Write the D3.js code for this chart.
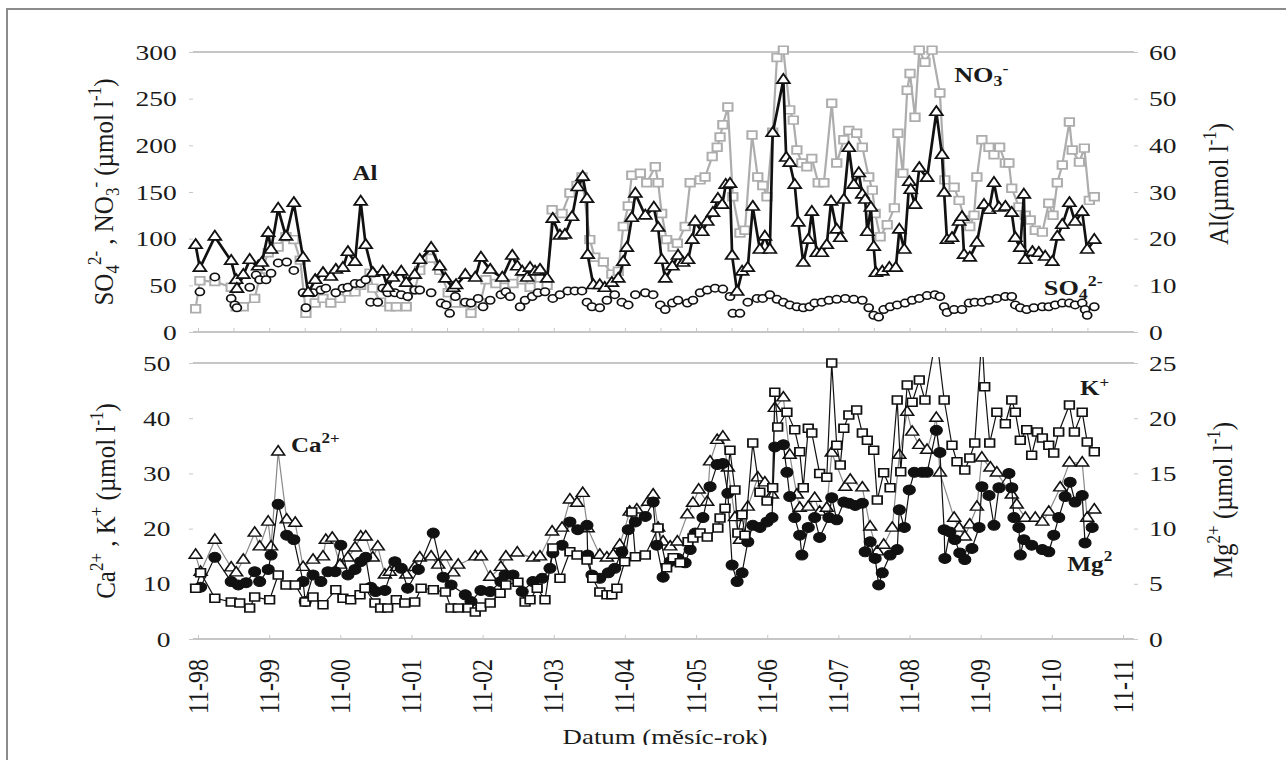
<!DOCTYPE html>
<html>
<head>
<meta charset="utf-8">
<title>Chemie - casove rady</title>
<script src="https://d3js.org/d3.v7.min.js"></script>
<style>
	body { margin: 0; background: #fff; }
	text { font-family: "Liberation Serif", "Times New Roman", serif; fill: #1a1a1a; }
</style>
</head>
<body>
<div id="chart"></div>
<script>

// ---- data (decimal year, value) ----
var tickLabels = ["11-98","11-99","11-00","11-01","11-02","11-03","11-04","11-05","11-06","11-07","11-08","11-09","11-10","11-11"];
var topLeftTicks = [0, 50, 100, 150, 200, 250, 300];
var topRightTicks = [0, 10, 20, 30, 40, 50, 60];
var botLeftTicks = [0, 10, 20, 30, 40, 50];
var botRightTicks = [0, 5, 10, 15, 20, 25];

// Al (right axis, umol/l)
var alData = [[1998.80,18.6],[1998.86,13.7],[1999.07,20.4],[1999.30,15.2],[1999.37,11.1],[1999.38,9.2],[1999.47,12.2],[1999.56,15.4],[1999.68,14.0],[1999.73,14.8],[1999.82,21.2],[1999.86,17.6],[1999.96,26.4],[2000.07,20.4],[2000.18,27.6],[2000.31,15.9],[2000.38,8.4],[2000.48,11.1],[2000.59,12.6],[2000.70,11.8],[2000.77,13.3],[2000.87,13.7],[2000.94,17.1],[2001.04,15.0],[2001.12,27.9],[2001.19,18.6],[2001.29,12.6],[2001.43,12.9],[2001.50,9.4],[2001.57,11.6],[2001.69,12.9],[2001.76,10.5],[2001.88,12.2],[2001.95,15.4],[2002.11,18.0],[2002.23,14.0],[2002.31,11.4],[2002.42,9.4],[2002.46,10.0],[2002.59,12.2],[2002.73,11.6],[2002.81,15.9],[2002.94,13.3],[2003.11,11.6],[2003.25,16.3],[2003.32,14.0],[2003.39,12.9],[2003.46,11.6],[2003.50,13.7],[2003.57,12.9],[2003.64,13.3],[2003.74,11.4],[2003.82,24.2],[2003.92,20.6],[2003.99,20.8],[2004.09,24.6],[2004.17,31.0],[2004.24,33.2],[2004.30,28.5],[2004.31,16.5],[2004.39,10.0],[2004.48,10.0],[2004.55,9.4],[2004.65,10.5],[2004.74,11.4],[2004.81,15.0],[2004.86,18.0],[2004.93,24.4],[2004.98,29.6],[2005.12,24.9],[2005.24,26.6],[2005.30,22.3],[2005.35,15.4],[2005.40,11.4],[2005.50,14.0],[2005.58,16.3],[2005.65,14.8],[2005.72,15.4],[2005.78,19.7],[2005.82,23.6],[2005.92,21.4],[2005.99,23.6],[2006.07,25.5],[2006.14,28.5],[2006.20,27.2],[2006.25,31.5],[2006.31,31.7],[2006.34,16.3],[2006.41,8.6],[2006.48,12.9],[2006.56,13.7],[2006.63,26.8],[2006.73,17.6],[2006.80,20.4],[2006.87,17.6],[2006.91,42.6],[2007.06,54.0],[2007.10,37.3],[2007.15,36.2],[2007.22,31.5],[2007.27,23.4],[2007.34,14.8],[2007.41,19.7],[2007.46,25.7],[2007.53,16.9],[2007.60,16.9],[2007.67,18.6],[2007.73,27.9],[2007.81,21.9],[2007.86,20.1],[2007.91,28.3],[2007.98,39.4],[2008.05,31.5],[2008.12,34.0],[2008.17,29.4],[2008.21,28.3],[2008.24,21.4],[2008.29,26.6],[2008.33,18.2],[2008.36,12.6],[2008.45,12.9],[2008.55,13.7],[2008.64,13.7],[2008.69,21.9],[2008.76,17.6],[2008.83,32.1],[2008.85,30.4],[2008.91,27.2],[2008.97,35.1],[2009.08,33.0],[2009.21,47.1],[2009.29,37.9],[2009.32,29.8],[2009.36,19.7],[2009.43,20.1],[2009.53,23.6],[2009.57,24.6],[2009.60,16.5],[2009.68,15.9],[2009.78,19.1],[2009.88,27.2],[2009.95,26.1],[2010.02,31.9],[2010.09,26.6],[2010.18,26.8],[2010.27,25.5],[2010.32,20.1],[2010.39,18.0],[2010.44,29.4],[2010.46,15.4],[2010.56,17.1],[2010.65,16.9],[2010.74,16.1],[2010.84,15.0],[2010.91,20.4],[2010.98,22.9],[2011.08,27.6],[2011.16,23.6],[2011.26,25.7],[2011.33,17.6],[2011.43,19.7]];

// NO3- (left axis)
var no3Data = [[1998.80,25],[1998.86,55],[1999.07,54],[1999.30,48],[1999.37,27],[1999.47,27],[1999.63,36],[1999.70,59],[1999.82,85],[1999.96,91],[2000.07,102],[2000.18,99],[2000.27,77],[2000.35,20],[2000.48,31],[2000.59,36],[2000.70,31],[2000.83,36],[2000.94,43],[2001.04,43],[2001.12,50],[2001.25,63],[2001.29,47],[2001.40,32],[2001.53,27],[2001.62,27],[2001.76,27],[2001.88,45],[2001.95,66],[2002.11,79],[2002.23,66],[2002.35,42],[2002.45,31],[2002.59,31],[2002.67,20],[2002.80,31],[2002.88,56],[2003.02,52],[2003.15,48],[2003.26,52],[2003.39,56],[2003.50,48],[2003.64,58],[2003.74,50],[2003.81,131],[2003.95,127],[2004.06,149],[2004.16,157],[2004.23,166],[2004.34,99],[2004.41,80],[2004.53,75],[2004.65,62],[2004.74,65],[2004.81,113],[2004.88,135],[2004.93,168],[2005.05,170],[2005.14,160],[2005.26,177],[2005.30,160],[2005.35,127],[2005.42,99],[2005.51,91],[2005.57,95],[2005.68,113],[2005.75,160],[2005.89,163],[2005.96,166],[2006.06,188],[2006.13,198],[2006.17,209],[2006.21,222],[2006.28,241],[2006.35,145],[2006.45,106],[2006.52,109],[2006.62,211],[2006.70,166],[2006.77,157],[2006.83,145],[2006.91,214],[2006.97,294],[2007.06,302],[2007.15,238],[2007.20,227],[2007.25,195],[2007.32,181],[2007.39,177],[2007.46,186],[2007.55,160],[2007.63,160],[2007.74,245],[2007.81,181],[2007.91,206],[2007.98,216],[2008.09,213],[2008.17,198],[2008.26,166],[2008.31,152],[2008.35,127],[2008.42,102],[2008.52,115],[2008.62,133],[2008.67,213],[2008.74,170],[2008.80,259],[2008.84,277],[2008.91,230],[2008.97,302],[2009.05,289],[2009.15,302],[2009.26,256],[2009.33,163],[2009.46,155],[2009.53,141],[2009.61,120],[2009.68,113],[2009.74,125],[2009.78,166],[2009.85,206],[2009.95,198],[2010.02,190],[2010.10,198],[2010.18,181],[2010.23,181],[2010.27,154],[2010.37,134],[2010.46,125],[2010.53,120],[2010.60,109],[2010.70,107],[2010.79,138],[2010.85,125],[2010.91,160],[2010.98,179],[2011.08,225],[2011.12,195],[2011.22,182],[2011.29,197],[2011.36,141],[2011.43,145]];

// SO4 2- (left axis)
var so4Data = [[1998.86,43],[1999.07,59],[1999.30,36],[1999.35,29],[1999.38,26],[1999.56,48],[1999.65,61],[1999.70,56],[1999.79,56],[1999.86,63],[1999.96,74],[2000.08,75],[2000.18,66],[2000.31,42],[2000.35,26],[2000.45,42],[2000.56,45],[2000.63,47],[2000.77,42],[2000.87,47],[2000.94,48],[2001.04,52],[2001.12,52],[2001.19,56],[2001.26,32],[2001.36,32],[2001.43,47],[2001.50,42],[2001.60,42],[2001.69,40],[2001.78,38],[2001.88,45],[2001.95,45],[2002.11,42],[2002.25,31],[2002.32,29],[2002.37,20],[2002.45,38],[2002.59,32],[2002.67,31],[2002.77,36],[2002.84,27],[2002.94,34],[2003.09,40],[2003.16,43],[2003.22,38],[2003.36,27],[2003.43,34],[2003.53,38],[2003.61,42],[2003.71,43],[2003.82,36],[2003.92,40],[2004.03,44],[2004.13,44],[2004.23,44],[2004.30,32],[2004.37,27],[2004.48,26],[2004.58,34],[2004.69,40],[2004.79,32],[2004.88,29],[2004.98,40],[2005.12,42],[2005.23,40],[2005.33,29],[2005.40,24],[2005.50,31],[2005.58,34],[2005.71,31],[2005.79,34],[2005.89,42],[2005.99,45],[2006.10,47],[2006.21,46],[2006.31,38],[2006.35,20],[2006.45,20],[2006.56,32],[2006.69,36],[2006.77,36],[2006.87,40],[2006.97,35],[2007.06,32],[2007.15,29],[2007.25,27],[2007.34,26],[2007.43,27],[2007.50,31],[2007.60,32],[2007.70,34],[2007.81,35],[2007.93,36],[2008.05,35],[2008.17,34],[2008.26,26],[2008.33,18],[2008.40,16],[2008.47,24],[2008.56,27],[2008.66,29],[2008.77,31],[2008.87,34],[2008.97,36],[2009.08,39],[2009.19,40],[2009.26,38],[2009.32,27],[2009.36,21],[2009.46,24],[2009.57,24],[2009.67,31],[2009.75,32],[2009.85,32],[2009.95,34],[2010.06,36],[2010.18,38],[2010.27,38],[2010.32,29],[2010.39,26],[2010.48,24],[2010.58,26],[2010.70,27],[2010.79,27],[2010.88,29],[2010.98,31],[2011.08,31],[2011.16,29],[2011.26,31],[2011.30,24],[2011.33,18],[2011.43,27]];

// Ca 2+ (left axis, bottom)
var caData = [[1998.80,15.2],[1998.87,12.1],[1999.07,17.9],[1999.30,12.9],[1999.37,12.0],[1999.47,14.3],[1999.63,19.2],[1999.70,16.7],[1999.82,21.2],[1999.86,16.7],[1999.96,33.9],[2000.08,21.6],[2000.20,21.0],[2000.31,13.0],[2000.45,14.3],[2000.59,14.9],[2000.63,17.9],[2000.72,18.3],[2000.83,13.4],[2000.94,14.7],[2001.04,16.5],[2001.12,18.5],[2001.19,18.5],[2001.29,14.7],[2001.36,16.7],[2001.46,11.6],[2001.53,12.1],[2001.63,13.0],[2001.76,11.6],[2001.88,13.0],[2001.95,14.7],[2002.11,14.9],[2002.21,13.4],[2002.31,14.9],[2002.42,12.0],[2002.49,13.4],[2002.73,14.9],[2002.81,14.9],[2002.94,11.2],[2003.09,13.0],[2003.16,14.9],[2003.32,15.6],[2003.54,14.7],[2003.64,14.9],[2003.81,19.4],[2003.95,20.1],[2004.06,25.2],[2004.16,24.6],[2004.24,26.4],[2004.31,20.0],[2004.48,15.2],[2004.58,14.7],[2004.67,15.2],[2004.76,17.0],[2004.90,23.0],[2005.00,23.4],[2005.16,24.8],[2005.23,26.1],[2005.30,20.1],[2005.37,17.6],[2005.47,16.7],[2005.57,17.6],[2005.71,22.5],[2005.79,24.6],[2005.87,27.0],[2005.99,24.8],[2006.03,32.1],[2006.13,36.0],[2006.21,36.6],[2006.28,31.0],[2006.38,22.0],[2006.45,17.9],[2006.56,23.9],[2006.70,29.2],[2006.80,28.3],[2006.90,26.1],[2006.94,41.8],[2007.06,43.7],[2007.15,33.3],[2007.25,26.1],[2007.29,23.7],[2007.41,23.9],[2007.50,25.5],[2007.57,23.0],[2007.67,23.7],[2007.74,33.7],[2007.93,27.5],[2008.00,28.8],[2008.17,27.4],[2008.28,20.3],[2008.38,15.8],[2008.47,17.0],[2008.59,20.1],[2008.69,33.3],[2008.80,41.1],[2008.87,37.5],[2008.97,35.1],[2009.08,34.2],[2009.21,40.0],[2009.26,30.1],[2009.46,21.9],[2009.53,20.1],[2009.61,18.5],[2009.68,20.7],[2009.78,23.9],[2009.85,32.8],[2009.97,31.0],[2010.06,30.1],[2010.27,26.1],[2010.34,24.3],[2010.46,21.9],[2010.60,21.9],[2010.70,21.2],[2010.79,23.0],[2010.95,27.4],[2011.08,31.9],[2011.26,31.9],[2011.33,21.9],[2011.43,23.4]];

// K+ (left axis, bottom)
var kData = [[1998.80,9.2],[1998.87,12.0],[1999.07,7.4],[1999.30,6.7],[1999.42,6.5],[1999.56,5.6],[1999.63,7.6],[1999.84,7.1],[1999.96,11.6],[2000.07,9.8],[2000.20,9.8],[2000.34,6.7],[2000.45,7.6],[2000.59,6.2],[2000.77,8.9],[2000.87,7.4],[2000.98,7.1],[2001.11,8.0],[2001.18,9.2],[2001.32,6.5],[2001.40,5.6],[2001.50,5.6],[2001.62,7.1],[2001.74,6.5],[2001.88,6.7],[2001.97,9.2],[2002.14,8.9],[2002.31,8.5],[2002.39,5.6],[2002.49,5.6],[2002.63,5.6],[2002.73,4.9],[2002.81,5.8],[2002.94,6.5],[2003.08,8.3],[2003.16,9.8],[2003.33,10.3],[2003.43,6.7],[2003.50,7.1],[2003.60,9.2],[2003.71,7.1],[2003.82,16.5],[2003.92,11.0],[2004.06,15.8],[2004.16,15.2],[2004.30,14.3],[2004.38,11.0],[2004.48,8.5],[2004.58,8.0],[2004.65,8.0],[2004.72,9.2],[2004.83,14.0],[2004.93,23.0],[2004.98,14.9],[2005.12,15.2],[2005.30,20.1],[2005.42,12.9],[2005.51,14.7],[2005.61,13.8],[2005.72,17.6],[2005.79,18.3],[2005.89,19.2],[2005.99,18.5],[2006.14,20.1],[2006.17,21.9],[2006.24,23.7],[2006.31,34.2],[2006.38,27.0],[2006.42,19.2],[2006.48,22.5],[2006.52,18.8],[2006.63,35.5],[2006.73,26.6],[2006.83,25.0],[2006.91,27.4],[2006.94,44.7],[2006.98,38.4],[2007.11,41.1],[2007.22,37.9],[2007.29,33.9],[2007.34,27.4],[2007.41,38.2],[2007.46,37.3],[2007.57,30.0],[2007.67,29.3],[2007.74,50.0],[2007.81,35.1],[2007.86,31.5],[2007.91,38.2],[2007.98,40.6],[2008.09,41.5],[2008.17,37.3],[2008.24,36.0],[2008.33,34.2],[2008.38,25.2],[2008.47,30.1],[2008.56,27.4],[2008.66,43.3],[2008.71,30.3],[2008.80,46.0],[2008.87,42.9],[2008.97,46.9],[2009.05,43.3],[2009.21,55.0],[2009.32,43.3],[2009.43,35.1],[2009.50,32.1],[2009.61,30.6],[2009.68,32.8],[2009.75,35.5],[2009.85,55.0],[2009.89,45.7],[2009.96,35.5],[2010.06,41.1],[2010.18,39.0],[2010.27,43.3],[2010.32,41.1],[2010.39,36.0],[2010.48,37.9],[2010.55,33.3],[2010.63,37.5],[2010.70,36.4],[2010.79,35.1],[2010.86,33.7],[2010.93,37.5],[2011.08,42.4],[2011.15,37.5],[2011.26,41.1],[2011.33,35.7],[2011.43,33.9]];

// Mg 2+ (right axis, bottom)
var mgData = [[1998.87,4.7],[1999.07,7.4],[1999.30,5.2],[1999.40,4.9],[1999.51,5.1],[1999.63,6.1],[1999.70,5.2],[1999.82,6.3],[1999.86,7.6],[1999.96,12.2],[2000.08,9.4],[2000.18,9.0],[2000.31,5.2],[2000.34,3.4],[2000.45,5.8],[2000.56,5.2],[2000.66,6.1],[2000.76,6.1],[2000.84,8.5],[2000.94,5.8],[2001.04,6.3],[2001.12,7.0],[2001.19,7.4],[2001.26,4.7],[2001.33,4.3],[2001.46,4.4],[2001.60,7.0],[2001.69,6.4],[2001.78,4.6],[2001.93,6.3],[2002.14,9.6],[2002.28,5.6],[2002.39,4.9],[2002.59,4.0],[2002.67,3.4],[2002.81,4.4],[2002.94,4.3],[2003.09,5.2],[2003.15,5.8],[2003.26,5.8],[2003.39,4.3],[2003.54,5.2],[2003.67,5.5],[2003.78,6.4],[2003.82,7.8],[2003.95,8.5],[2004.06,10.6],[2004.17,9.9],[2004.30,10.3],[2004.31,7.6],[2004.37,5.8],[2004.48,5.5],[2004.60,6.0],[2004.69,6.4],[2004.79,7.9],[2004.88,9.9],[2004.98,10.6],[2005.12,11.1],[2005.23,12.4],[2005.28,8.5],[2005.37,5.6],[2005.47,7.0],[2005.58,7.3],[2005.68,6.9],[2005.75,8.1],[2005.82,9.6],[2005.93,11.0],[2006.03,13.8],[2006.13,15.8],[2006.21,15.9],[2006.28,13.2],[2006.34,6.7],[2006.41,5.2],[2006.48,6.0],[2006.56,8.8],[2006.63,10.3],[2006.73,10.1],[2006.83,10.6],[2006.90,11.0],[2006.94,17.4],[2007.06,17.6],[2007.11,15.1],[2007.15,12.9],[2007.22,11.0],[2007.29,9.4],[2007.32,7.6],[2007.41,10.1],[2007.50,11.0],[2007.57,9.2],[2007.70,11.0],[2007.74,12.8],[2007.81,10.8],[2007.91,12.4],[2007.98,12.3],[2008.07,12.1],[2008.17,12.3],[2008.21,7.9],[2008.28,8.8],[2008.35,7.3],[2008.40,4.9],[2008.45,6.0],[2008.56,7.6],[2008.66,8.1],[2008.69,11.7],[2008.76,10.1],[2008.83,13.5],[2008.90,15.1],[2009.01,15.1],[2009.08,15.1],[2009.21,18.9],[2009.26,16.9],[2009.32,9.9],[2009.33,7.3],[2009.40,9.7],[2009.47,9.0],[2009.54,7.8],[2009.61,7.2],[2009.71,8.2],[2009.81,10.1],[2009.85,13.8],[2009.95,13.0],[2010.02,10.3],[2010.09,13.7],[2010.23,15.0],[2010.27,13.7],[2010.30,11.0],[2010.37,10.1],[2010.39,7.6],[2010.44,9.0],[2010.55,8.5],[2010.70,8.1],[2010.79,7.9],[2010.86,9.4],[2010.93,11.0],[2011.02,12.9],[2011.09,14.2],[2011.16,12.4],[2011.26,13.0],[2011.30,8.7],[2011.40,10.1]];

// ---- drawing ----
var SX = 1.25;   // the source picture is stretched sideways, text and marks follow it
var W = 1286, H = 760;

var svg = d3.select("#chart").append("svg")
	.attr("width", W).attr("height", H)
	.style("display", "block");

svg.append("rect").attr("width", W).attr("height", H).attr("fill", "#fff");

var firstTick = 1998 + 10 / 12;
var tickYears = tickLabels.map(function (d, i) { return firstTick + i; });
var halfYears = d3.range(0, 26).map(function (i) { return firstTick + i / 2; });

var x = d3.scaleLinear().domain([firstTick, firstTick + 13]).range([198, 1123]);
var yTop = d3.scaleLinear().domain([0, 300]).range([332, 52]);
var yAl = d3.scaleLinear().domain([0, 60]).range([332, 52]);
var yBot = d3.scaleLinear().domain([0, 50]).range([639, 363]);
var yMg = d3.scaleLinear().domain([0, 25]).range([639, 363]);

var plotL = 193, plotR = 1134;

// outer frame
svg.append("path")
	.attr("d", "M7," + H + " L7,9 L" + W + ",9")
	.attr("fill", "none").attr("stroke", "#8c8c8c").attr("stroke-width", 2);

// horizontal border lines of the two panels
[yTop(300), yTop(0), yBot(50), yBot(0)].forEach(function (yy) {
	svg.append("line")
		.attr("x1", plotL).attr("x2", plotR)
		.attr("y1", yy).attr("y2", yy)
		.attr("stroke", "#c6c6c6").attr("stroke-width", 2);
});

function styleAxis(g, size) {
	g.select(".domain").remove();
	g.selectAll(".tick line").attr("stroke", "#c8c8c8");
	g.attr("font-family", "Liberation Serif, Times New Roman, serif").attr("font-size", size);
	g.selectAll("text").attr("fill", "#1a1a1a");
}

// y axes
var gTL = svg.append("g").attr("transform", "translate(" + plotL + ",0)")
	.call(d3.axisLeft(yTop).tickValues(topLeftTicks).tickSize(4).tickPadding(9));
styleAxis(gTL, 22);
gTL.selectAll("text").attr("transform", "scale(" + SX + ",1)");

var gTR = svg.append("g").attr("transform", "translate(" + plotR + ",0)")
	.call(d3.axisRight(yAl).tickValues(topRightTicks).tickSize(4).tickPadding(8));
styleAxis(gTR, 22);
gTR.selectAll("text").attr("transform", "scale(" + SX + ",1)");

var gBL = svg.append("g").attr("transform", "translate(" + plotL + ",0)")
	.call(d3.axisLeft(yBot).tickValues(botLeftTicks).tickSize(4).tickPadding(14));
styleAxis(gBL, 22);
gBL.selectAll("text").attr("transform", "scale(" + SX + ",1)");

var gBR = svg.append("g").attr("transform", "translate(" + plotR + ",0)")
	.call(d3.axisRight(yMg).tickValues(botRightTicks).tickSize(4).tickPadding(8));
styleAxis(gBR, 22);
gBR.selectAll("text").attr("transform", "scale(" + SX + ",1)");

// half-year ticks on the top panel base line
var gTX = svg.append("g").attr("transform", "translate(0," + yTop(0) + ")")
	.call(d3.axisBottom(x).tickValues(halfYears).tickSize(-4).tickFormat(""));
styleAxis(gTX, 10);

// x axis with rotated date labels
var gX = svg.append("g").attr("transform", "translate(0," + yBot(0) + ")")
	.call(d3.axisBottom(x).tickValues(tickYears).tickSize(-4)
		.tickFormat(function (d, i) { return tickLabels[i]; }));
styleAxis(gX, 24);
gX.selectAll("text")
	.attr("x", 0).attr("y", 0).attr("dy", 0)
	.attr("text-anchor", "end")
	.attr("transform", "translate(9,20) scale(1.2,1) rotate(-90)");

// text with sub/superscripts
function rich(parent, parts, size, weight) {
	var t = parent.append("text")
		.attr("font-size", size)
		.attr("font-weight", weight || "normal");
	var cur = 0;
	parts.forEach(function (p) {
		var kind = p[1] || "";
		var off = kind === "sup" ? -0.42 * size : (kind === "sub" ? 0.22 * size : 0);
		t.append("tspan")
			.attr("dy", (off - cur).toFixed(2))
			.attr("font-size", kind ? (size * 0.68).toFixed(1) : size)
			.text(p[0]);
		cur = off;
	});
	return t;
}

function place(t, px, py, anchor, rotate, sx) {
	t.attr("text-anchor", anchor)
		.attr("transform", "translate(" + px + "," + py + ") scale(" + (sx || SX) + ",1)" + (rotate ? " rotate(-90)" : ""));
	return t;
}

// axis titles
place(rich(svg, [["SO"], ["4", "sub"], ["2-", "sup"], [" , NO"], ["3", "sub"], ["-", "sup"], [" (µmol l"], ["-1", "sup"], [")"]], 25),
	113, 192, "middle", true, 1.1);
place(rich(svg, [["Ca"], ["2+", "sup"], [" , K"], ["+", "sup"], [" (µmol l"], ["-1", "sup"], [")"]], 25),
	115, 501, "middle", true, 1.1);
place(rich(svg, [["Al(µmol l"], ["-1", "sup"], [")"]], 25),
	1228, 184, "middle", true, 1.1);
place(rich(svg, [["Mg"], ["2+", "sup"], [" (µmol l"], ["-1", "sup"], [")"]], 25),
	1232, 500, "middle", true, 1.1);
place(rich(svg, [["Datum (měsíc-rok)"]], 22), 665, 744, "middle", false, 1.22);

// clip areas for the panels
var defs = svg.append("defs");
defs.append("clipPath").attr("id", "clipTop").append("rect")
	.attr("x", 185).attr("y", 45).attr("width", 960).attr("height", 300);
defs.append("clipPath").attr("id", "clipBot").append("rect")
	.attr("x", 185).attr("y", 357).attr("width", 960).attr("height", 295);

var gTop = svg.append("g").attr("clip-path", "url(#clipTop)");
var gBot = svg.append("g").attr("clip-path", "url(#clipBot)");

function drawSeries(g, data, yScale, opt) {
	if (opt.line) {
		g.append("path")
			.datum(data)
			.attr("fill", "none")
			.attr("stroke", opt.line)
			.attr("stroke-width", opt.lineWidth)
			.attr("stroke-linejoin", "round")
			.attr("d", d3.line()
				.x(function (d) { return x(d[0]); })
				.y(function (d) { return yScale(d[1]); }));
	}
	var sym = d3.symbol().type(opt.shape).size(opt.size);
	g.append("g").selectAll("path")
		.data(data)
		.enter().append("path")
		.attr("d", sym)
		.attr("transform", function (d) {
			return "translate(" + x(d[0]) + "," + yScale(d[1]) + ") scale(1.2,1)";
		})
		.attr("fill", opt.fill)
		.attr("stroke", opt.stroke)
		.attr("stroke-width", opt.strokeWidth);
}

// top panel
drawSeries(gTop, no3Data, yTop, { line: "#adadad", lineWidth: 2.2, shape: d3.symbolSquare, size: 60, fill: "#fff", stroke: "#adadad", strokeWidth: 1.7 });
drawSeries(gTop, so4Data, yTop, { line: null, shape: d3.symbolCircle, size: 44, fill: "#fff", stroke: "#111", strokeWidth: 1.5 });
drawSeries(gTop, alData, yAl, { line: "#111", lineWidth: 2.7, shape: d3.symbolTriangle, size: 50, fill: "#fff", stroke: "#111", strokeWidth: 1.6 });

// bottom panel
drawSeries(gBot, caData, yBot, { line: "#8a8a8a", lineWidth: 1.2, shape: d3.symbolTriangle, size: 50, fill: "#fff", stroke: "#111", strokeWidth: 1.4 });
drawSeries(gBot, mgData, yMg, { line: "#111", lineWidth: 1.2, shape: d3.symbolCircle, size: 78, fill: "#111", stroke: "#111", strokeWidth: 1 });
drawSeries(gBot, kData, yBot, { line: "#111", lineWidth: 1.2, shape: d3.symbolSquare, size: 64, fill: "#fff", stroke: "#111", strokeWidth: 1.5 });

// series labels
place(rich(svg, [["Al"]], 20, "bold"), x(2001.18), yAl(32.6), "middle");
place(rich(svg, [["NO"], ["3", "sub"], ["-", "sup"]], 21, "bold"), x(2009.46), yTop(268), "start");
place(rich(svg, [["SO"], ["4", "sub"], ["2-", "sup"]], 21, "bold"), x(2010.72), yTop(40), "start");
place(rich(svg, [["Ca"], ["2+", "sup"]], 20, "bold"), x(2000.14), yBot(33.9), "start");
place(rich(svg, [["K"], ["+", "sup"]], 20, "bold"), x(2011.23), yBot(44.2), "start");
place(rich(svg, [["Mg"], ["2", "sup"]], 22, "bold"), x(2011.05), yMg(6.2), "start", false, 1.15);

// the picture is cut just under the x axis title
svg.append("rect").attr("x", 9).attr("y", 745).attr("width", W).attr("height", H - 745).attr("fill", "#fff");

</script>
</body>
</html>
